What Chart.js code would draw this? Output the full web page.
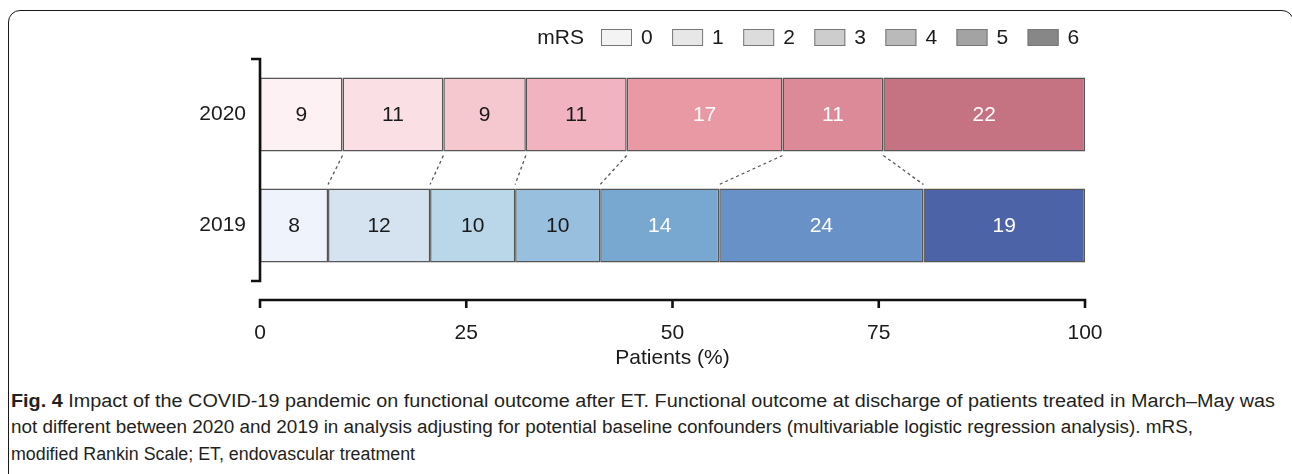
<!DOCTYPE html>
<html>
<head>
<meta charset="utf-8">
<script src="https://cdn.jsdelivr.net/npm/chart.js@4.4.0/dist/chart.umd.min.js"></script>
<style>
  html, body { margin: 0; padding: 0; background: #fff; overflow: hidden; }
  #frame { position: absolute; left: 8px; top: 10px; width: 1286px; height: 600px; box-sizing: border-box;
           border: 1.5px solid #1a1a1a; border-radius: 12px; }
  #chart { position: absolute; left: 0; top: 0; }
  .cap { position: absolute; left: 11px; white-space: nowrap; line-height: 26px;
         font-family: "Liberation Sans Narrow", "Liberation Sans", Arial, sans-serif;
         font-size: 18px; color: #231f20; transform-origin: 0 50%; }
</style>
</head>
<body>
<div id="frame"></div>
<canvas id="chart" width="1292" height="380"></canvas>
<div class="cap" id="cap1" data-w="1264" style="top:388px"><b>Fig. 4</b> Impact of the COVID-19 pandemic on functional outcome after ET. Functional outcome at discharge of patients treated in March–May was</div>
<div class="cap" id="cap2" data-w="1182" style="top:414px">not different between 2020 and 2019 in analysis adjusting for potential baseline confounders (multivariable logistic regression analysis). mRS,</div>
<div class="cap" id="cap3" data-w="404" style="top:441px">modified Rankin Scale; ET, endovascular treatment</div>
<script>
// values: patient counts per mRS grade
var years = ['2020', '2019'];
var mrsLevels = ['0', '1', '2', '3', '4', '5', '6'];
var counts2020 = [9, 11, 9, 11, 17, 11, 22];
var counts2019 = [8, 12, 10, 10, 14, 24, 19];
var xTicks = [0, 25, 50, 75, 100];

var colors2020 = ['#fdf1f4', '#fae0e5', '#f5c8d0', '#f1b3c0', '#e899a4', '#dd8a98', '#c57282'];
var colors2019 = ['#eff3fc', '#d5e3f0', '#b9d7e8', '#98bfdd', '#78a8cf', '#6892c7', '#4c63a7'];
var legendGrays = ['#f3f3f3', '#e7e7e7', '#dcdcdc', '#cdcdcd', '#bababa', '#a3a3a3', '#878787'];
var darkLabels = 4; // first four grades get black numbers, rest white

var total2020 = counts2020.reduce(function (a, b) { return a + b; }, 0);
var total2019 = counts2019.reduce(function (a, b) { return a + b; }, 0);

Chart.defaults.font.family = '"Liberation Sans", Arial, sans-serif';
Chart.defaults.color = '#1a1a1a';

var datasets = mrsLevels.map(function (lvl, i) {
  return {
    label: lvl,
    data: [counts2020[i] / total2020 * 100, counts2019[i] / total2019 * 100],
    counts: [counts2020[i], counts2019[i]],
    backgroundColor: [colors2020[i], colors2019[i]],
    borderColor: '#555',
    borderWidth: 1.5,
    borderSkipped: false
  };
});

// numbers inside segments + dashed connectors between the bars
var barDecor = {
  id: 'barDecor',
  afterDatasetsDraw: function (chart) {
    var ctx = chart.ctx;
    ctx.save();
    ctx.strokeStyle = '#555';
    ctx.lineWidth = 1.3;
    ctx.setLineDash([3, 3]);
    for (var i = 0; i < mrsLevels.length - 1; i++) {
      var meta = chart.getDatasetMeta(i);
      var top = meta.data[0], bot = meta.data[1];
      ctx.beginPath();
      ctx.moveTo(top.x, top.y + top.height / 2 + 4);
      ctx.lineTo(bot.x, bot.y - bot.height / 2 - 4);
      ctx.stroke();
    }
    ctx.setLineDash([]);
    ctx.font = '21px "Liberation Sans", Arial, sans-serif';
    ctx.textAlign = 'center';
    ctx.textBaseline = 'middle';
    chart.data.datasets.forEach(function (ds, i) {
      chart.getDatasetMeta(i).data.forEach(function (el, j) {
        ctx.fillStyle = i < darkLabels ? '#1a1a1a' : '#ffffff';
        ctx.fillText(String(ds.counts[j]), (el.x + el.base) / 2, el.y + 1);
      });
    });
    ctx.restore();
  },
  afterDraw: function (chart) {
    var ctx = chart.ctx, area = chart.chartArea, x = chart.scales.x;
    ctx.save();
    ctx.strokeStyle = '#111';
    ctx.lineWidth = 2.6;
    ctx.lineJoin = 'miter';
    // bracket-style y axis
    ctx.beginPath();
    ctx.moveTo(area.left - 9, area.top);
    ctx.lineTo(area.left, area.top);
    ctx.lineTo(area.left, area.bottom);
    ctx.lineTo(area.left - 9, area.bottom);
    ctx.stroke();
    // detached x axis
    var ay = area.bottom + 19;
    ctx.beginPath();
    ctx.moveTo(x.getPixelForValue(x.min) - 1.3, ay);
    ctx.lineTo(x.getPixelForValue(x.max) + 1.3, ay);
    x.ticks.forEach(function (t) {
      var px = x.getPixelForValue(t.value);
      ctx.moveTo(px, ay);
      ctx.lineTo(px, ay + 8);
    });
    ctx.stroke();

    // legend row
    ctx.font = '21px "Liberation Sans", Arial, sans-serif';
    ctx.textBaseline = 'middle';
    ctx.fillStyle = '#1a1a1a';
    ctx.textAlign = 'right';
    ctx.fillText('mRS', 584, 38);
    ctx.textAlign = 'left';
    ctx.lineWidth = 1;
    ctx.strokeStyle = '#777';
    mrsLevels.forEach(function (lvl, i) {
      var sx = 601 + i * 71.1;
      ctx.fillStyle = legendGrays[i];
      ctx.fillRect(sx, 29, 31, 17);
      ctx.strokeRect(sx + 0.5, 29.5, 30, 16);
      ctx.fillStyle = '#1a1a1a';
      ctx.fillText(lvl, sx + 40, 38);
    });
    ctx.restore();
  }
};

new Chart(document.getElementById('chart'), {
  type: 'bar',
  data: { labels: years, datasets: datasets },
  options: {
    responsive: false,
    animation: false,
    devicePixelRatio: 1,
    indexAxis: 'y',
    layout: { padding: { top: 59, right: 207, left: 0, bottom: 0 } },
    datasets: { bar: { categoryPercentage: 1, barPercentage: 0.667 } },
    plugins: { legend: { display: false }, tooltip: { enabled: false } },
    scales: {
      x: {
        stacked: true, min: 0, max: 100,
        afterBuildTicks: function (s) { s.ticks = xTicks.map(function (v) { return { value: v }; }); },
        border: { display: false },
        grid: { display: false, drawTicks: false },
        ticks: { padding: 40, font: { size: 21 } },
        title: { display: true, text: 'Patients (%)', font: { size: 21 }, padding: { top: 0, bottom: 9 } },
        afterFit: function (s) { s.height = 99; }
      },
      y: {
        stacked: true,
        border: { display: false },
        grid: { display: false, drawTicks: false },
        ticks: { padding: 14, font: { size: 21 } },
        afterFit: function (s) { s.width = 260; }
      }
    }
  },
  plugins: [barDecor]
});

// squeeze caption lines to the widths in the figure
document.querySelectorAll('.cap').forEach(function (el) {
  var target = +el.getAttribute('data-w');
  var w = el.getBoundingClientRect().width;
  el.style.transform = 'scaleX(' + (target / w) + ')';
});
</script>
</body>
</html>
